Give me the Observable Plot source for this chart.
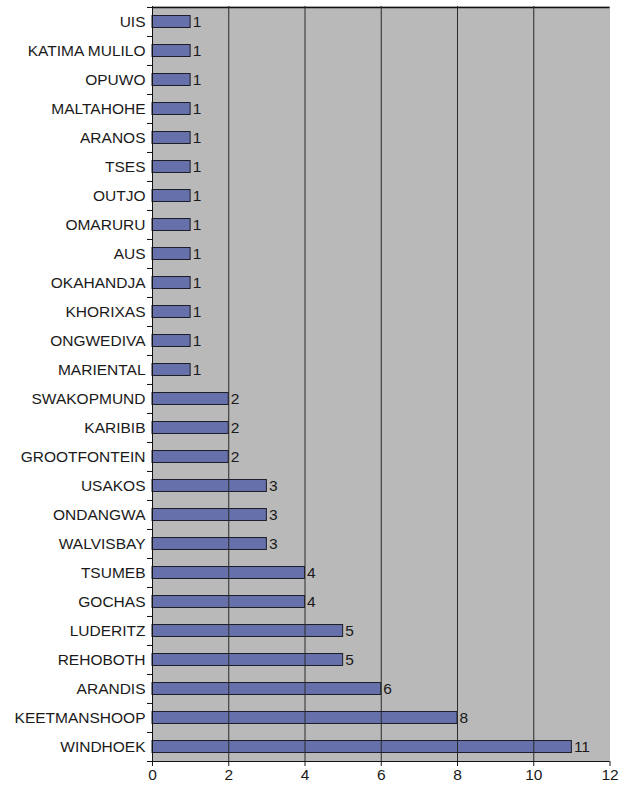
<!DOCTYPE html>
<html>
<head>
<meta charset="utf-8">
<script src="https://cdn.jsdelivr.net/npm/d3@7"></script>
<script src="https://cdn.jsdelivr.net/npm/@observablehq/plot@0.6"></script>
<style>
  html, body { margin: 0; padding: 0; background: #ffffff; }
  #chart svg { display: block; }
</style>
</head>
<body>
<div id="chart"></div>
<script>
// Towns, listed top to bottom
const towns = [
  "UIS", "KATIMA MULILO", "OPUWO", "MALTAHOHE", "ARANOS", "TSES", "OUTJO",
  "OMARURU", "AUS", "OKAHANDJA", "KHORIXAS", "ONGWEDIVA", "MARIENTAL",
  "SWAKOPMUND", "KARIBIB", "GROOTFONTEIN", "USAKOS", "ONDANGWA", "WALVISBAY",
  "TSUMEB", "GOCHAS", "LUDERITZ", "REHOBOTH", "ARANDIS", "KEETMANSHOOP", "WINDHOEK"
];
// Count per town
const counts = [
  1, 1, 1, 1, 1, 1, 1,
  1, 1, 1, 1, 1, 1,
  2, 2, 2, 3, 3, 3,
  4, 4, 5, 5, 6, 8, 11
];
const xTicks = [0, 2, 4, 6, 8, 10, 12];
const gridValues = [2, 4, 6, 8, 10];

const data = towns.map((town, i) => ({town, count: counts[i]}));

const width = 621, height = 787;
const marginTop = 6, marginBottom = 26, marginLeft = 152, marginRight = 11.5;
const step = (height - marginTop - marginBottom) / towns.length;
const barH = 12;
const inset = (step - barH) / 2;

const chart = Plot.plot({
  width, height,
  marginTop, marginBottom, marginLeft, marginRight,
  style: {fontFamily: "'Liberation Sans', Arial, sans-serif", background: "#ffffff", color: "#1a1a1a"},
  x: {domain: [0, 12], ticks: xTicks, label: null},
  y: {domain: towns, padding: 0, label: null},
  marks: [
    Plot.frame({fill: "#b9b9b9", stroke: "none"}),
    // top border of the plot area
    Plot.ruleY([towns[0]], {dy: -step / 2, stroke: "#111", strokeWidth: 1.5}),
    Plot.barX(data, {
      x: "count", y: "town",
      insetTop: inset, insetBottom: inset,
      fill: "#6670aa", stroke: "#1e1e2a", strokeWidth: 1
    }),
    Plot.ruleX(gridValues, {stroke: "#2a2a2a", strokeWidth: 1}),
    Plot.ruleX([0], {stroke: "#111", strokeWidth: 1}),
    Plot.ruleY([towns[towns.length - 1]], {dy: step / 2, stroke: "#111", strokeWidth: 1}),
    // short ticks at the category boundaries (upper edge of each band, plus the bottom edge)
    Plot.axisY({tickSize: 5, tickFormat: () => "", dy: -step / 2, stroke: "#111", label: null}),
    Plot.axisY([towns[towns.length - 1]], {tickSize: 5, tickFormat: () => "", dy: step / 2, stroke: "#111", label: null}),
    Plot.text(data, {
      x: "count", y: "town", text: d => String(d.count),
      dx: 2, textAnchor: "start", fontSize: 15.5, fill: "#1a1a1a"
    }),
    Plot.axisX({ticks: xTicks, tickSize: 5, tickPadding: 2, fontSize: 15.5, label: null}),
    Plot.axisY({tickSize: 0, tickPadding: 7, fontSize: 15.5, label: null})
  ]
});

document.getElementById("chart").append(chart);
</script>
</body>
</html>
